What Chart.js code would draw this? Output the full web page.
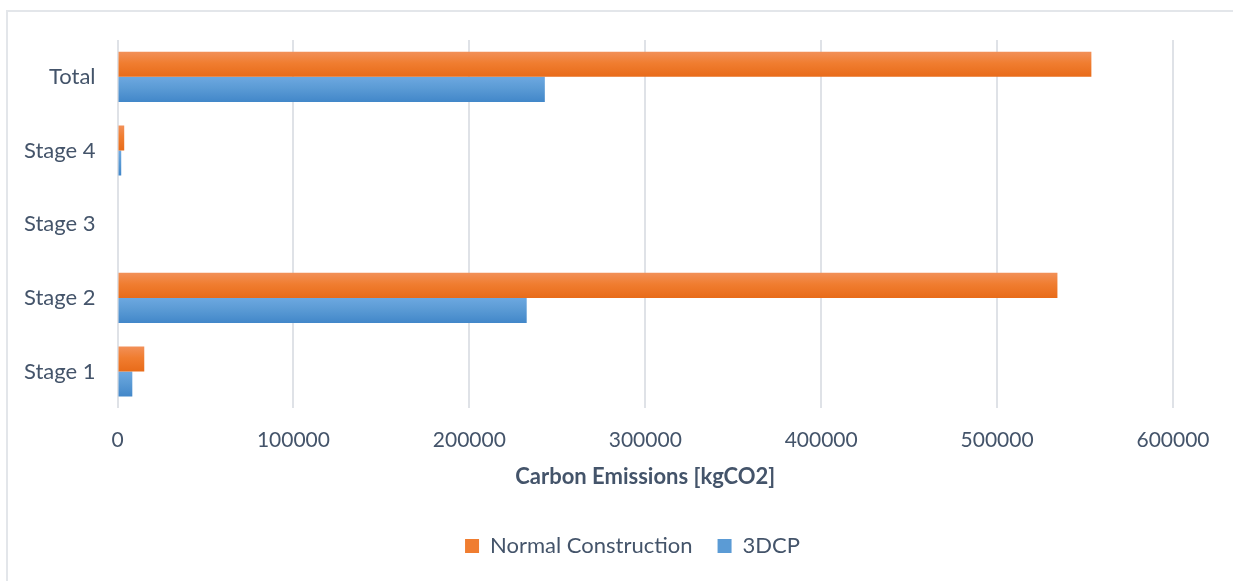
<!DOCTYPE html>
<html>
<head>
<meta charset="utf-8">
<script src="https://cdn.jsdelivr.net/npm/chart.js@4.4.0/dist/chart.umd.min.js"></script>
<style>
  body { margin: 0; background: #fff; overflow: hidden; }
  #frame { position: absolute; left: 6px; top: 10px; width: 1300px; height: 700px; border: 2px solid #e3e6ea; }
  #c { position: absolute; left: 0; top: 0; }
</style>
</head>
<body>
<div id="frame"></div>
<canvas id="c" width="1233" height="581"></canvas>
<script>
// categories top to bottom, as in the picture
var stages = ['Total', 'Stage 4', 'Stage 3', 'Stage 2', 'Stage 1'];
var normalConstruction = [553600, 3800, 0, 534300, 15200];
var dcp3 = [242900, 2100, 0, 232600, 8400];
var xTicks = [0, 100000, 200000, 300000, 400000, 500000, 600000];

var textColor = '#44546a';
var catPct = 0.68;

// vertical gradient for each bar, lighter at the top like the original
function barGradient(ctx, top, mid, bottom) {
  var chart = ctx.chart;
  var yScale = chart.scales.y;
  if (!chart.chartArea || !yScale) return mid;
  var step = (yScale.bottom - yScale.top) / stages.length;
  var half = step * catPct / 2;
  var c = yScale.getPixelForValue(ctx.dataIndex);
  var y0 = ctx.datasetIndex === 0 ? c - half : c;
  var g = chart.ctx.createLinearGradient(0, y0, 0, y0 + half);
  g.addColorStop(0, top);
  g.addColorStop(0.45, mid);
  g.addColorStop(1, bottom);
  return g;
}

// the legend in the original sits a bit right of centre
var legendShift = {
  id: 'legendShift',
  afterLayout: function(chart) {
    if (chart.legend) {
      chart.legend.left += 21;
      chart.legend.right += 21;
    }
  }
};

new Chart(document.getElementById('c'), {
  type: 'bar',
  data: {
    labels: stages,
    datasets: [{
      label: 'Normal Construction',
      data: normalConstruction,
      backgroundColor: function(ctx) { return barGradient(ctx, '#f29058', '#f07d30', '#e86b19'); }
    }, {
      label: '3DCP',
      data: dcp3,
      backgroundColor: function(ctx) { return barGradient(ctx, '#6da8e0', '#5b9bd5', '#4287c9'); }
    }]
  },
  plugins: [legendShift],
  options: {
    indexAxis: 'y',
    responsive: false,
    animation: false,
    layout: { padding: { left: 10, right: 20, top: 40, bottom: 14 } },
    datasets: { bar: { categoryPercentage: catPct, barPercentage: 1 } },
    scales: {
      x: {
        min: 0,
        max: 600000,
        afterBuildTicks: function(axis) { axis.ticks = xTicks.map(function(v) { return { value: v }; }); },
        afterFit: function(axis) { axis.paddingRight = 60; },
        grid: { color: '#dfe2e7', lineWidth: 2, drawTicks: false },
        border: { display: false },
        ticks: {
          color: textColor, font: { family: 'Lato', size: 21 }, padding: 19, maxRotation: 0,
          callback: function(v) { return String(v); }
        },
        title: {
          display: true,
          text: 'Carbon Emissions [kgCO2]',
          color: textColor,
          font: { family: 'Lato', size: 22, weight: 'bold' },
          padding: { top: -8, bottom: 20 }
        }
      },
      y: {
        grid: { display: false },
        border: { display: false },
        ticks: { color: textColor, font: { family: 'Lato', size: 22 }, padding: 14 }
      }
    },
    plugins: {
      tooltip: { enabled: false },
      legend: {
        position: 'bottom',
        labels: {
          color: textColor,
          font: { family: 'Lato', size: 22 },
          boxWidth: 14,
          boxHeight: 14,
          padding: 25,
          generateLabels: function(chart) {
            var solid = ['#f07d30', '#5b9bd5'];
            return chart.data.datasets.map(function(ds, i) {
              return { text: ds.label, fillStyle: solid[i], strokeStyle: solid[i], lineWidth: 0, datasetIndex: i, fontColor: textColor };
            });
          }
        }
      }
    }
  }
});
</script>
</body>
</html>
